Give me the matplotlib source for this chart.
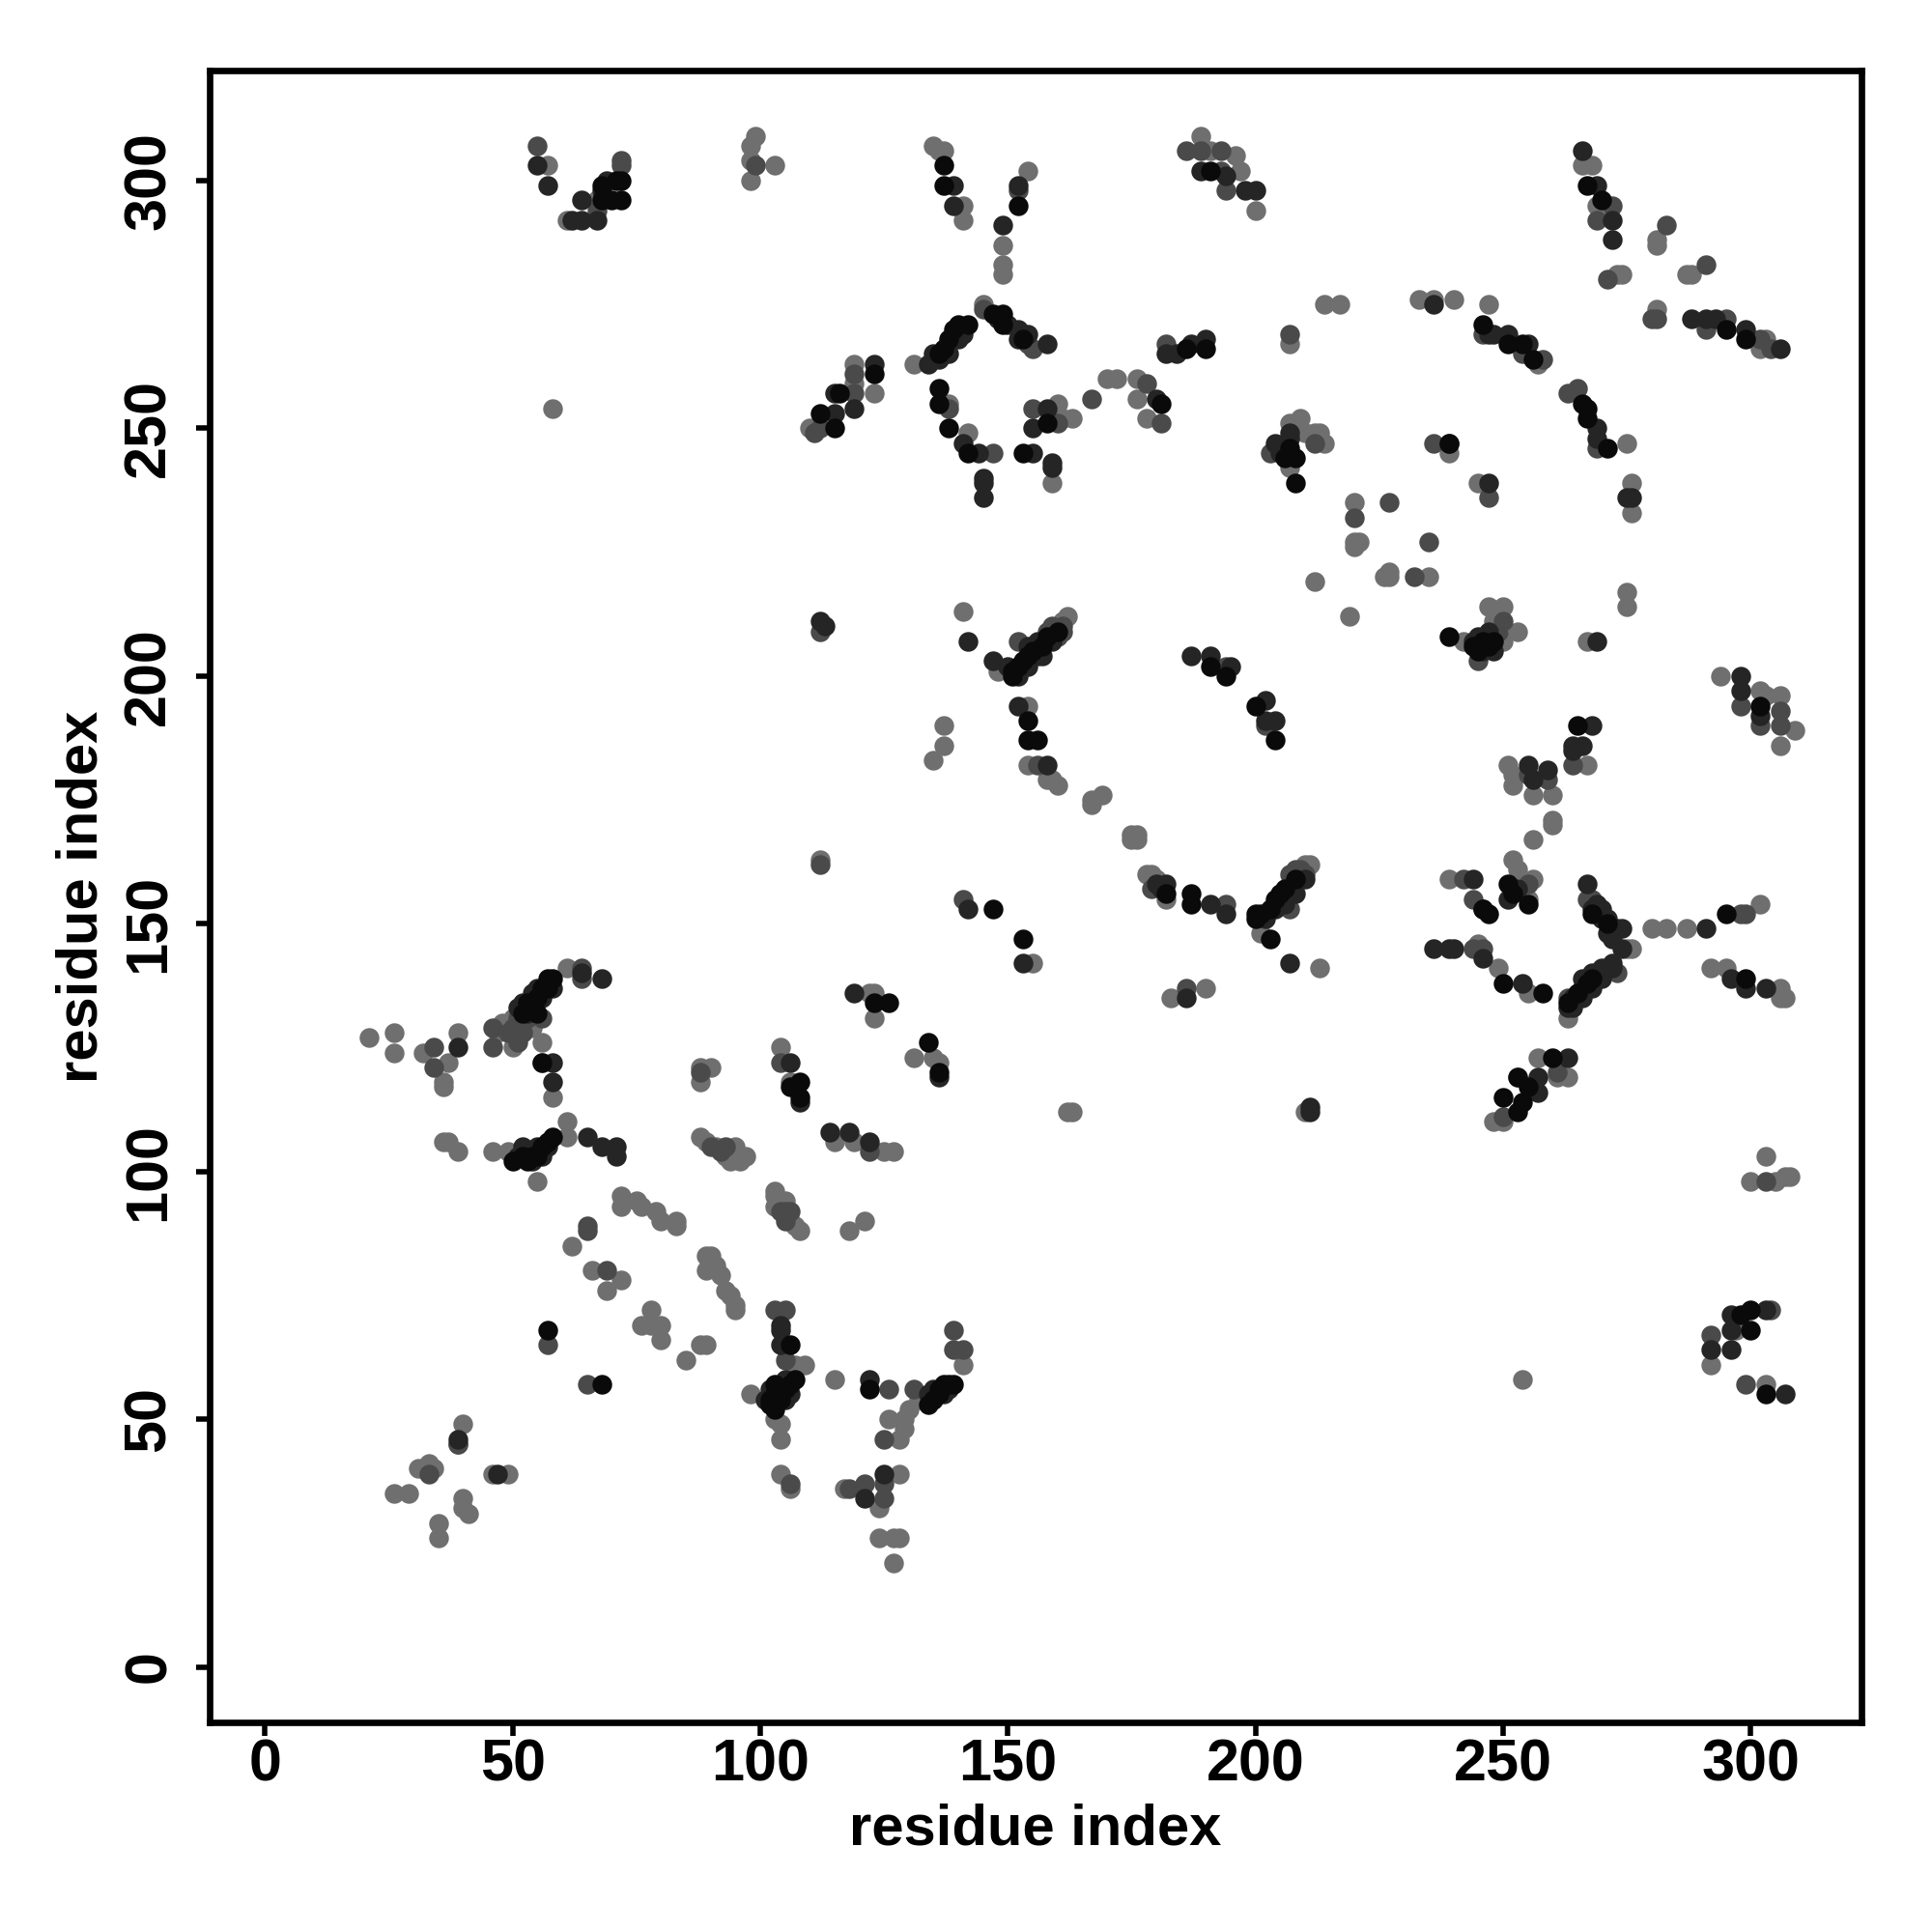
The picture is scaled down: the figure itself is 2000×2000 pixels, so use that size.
import matplotlib
matplotlib.use("Agg")
import matplotlib.pyplot as plt

# contacts as (residue i, residue j), grouped by how dark the dot is
light = [(35,26),(35,29),(26,35),(29,35),(31,40),(32,40),(33,41),(34,40),(40,49),(39,45),(46,39),(49,39),(40,34),(40,32),(41,31),
 (107,61),(109,61),(98,55),(103,50),(104,49),(104,46),(115,58),(126,50),(128,46),(129,48),(129,50),(130,52),(132,54),(141,61),
 (117,36),(128,39),(124,32),(124,26),(127,26),(128,26),(127,21),(104,39),(106,36),
 (62,85),(66,80),(69,76),(72,78),(76,69),(78,69),(78,72),(80,69),(80,66),(85,62),(88,65),(89,65),
 (72,95),(72,93),(75,94),(76,93),(79,92),(80,90),(83,90),(83,89),(89,83),(89,80),(92,79),(93,76),(95,73),(95,72),(90,83),(91,81),(94,75),
 (21,127),(26,128),(26,124),(32,124),(37,122),(36,118),(39,128),(36,117),(50,125),(50,131),(48,130),(47,128),(52,130),(54,129),
 (61,141),(56,126),(56,122),(58,115),(36,106),(37,106),(39,104),(46,104),(49,104),(55,98),(61,110),(61,107),
 (88,121),(88,118),(90,121),(104,125),(106,118),(88,107),(89,106),(91,105),(93,103),(95,105),(96,102),(97,103),(94,102),
 (103,96),(103,93),(105,94),(106,90),(107,89),(108,88),(103,95),(118,88),(121,90),(115,106),(119,106),(125,104),(127,104),
 (122,136),(123,136),(123,131),(131,123),(136,122),(135,123),(112,163),(162,112),(163,112),(210,112),(254,58),
 (297,68),(292,61),(303,57),(303,103),(300,98),(307,99),(308,99),(305,98),(250,110),(248,110),(253,119),(257,123),(263,119),(261,119),
 (245,146),(249,141),(255,136),(263,131),(275,145),(276,145),(280,149),(283,149),(287,149),(302,154),(292,141),(295,141),(306,137),(306,135),(307,135),
 (239,159),(255,155),(256,159),(252,163),(253,161),(256,167),(260,170),(260,171),(251,182),(252,180),(252,178),(256,176),(260,176),(267,182),
 (294,200),(302,197),(303,196),(306,196),(306,186),(309,189),(242,207),(247,214),(250,214),(248,211),(253,209),(250,207),(249,213),
 (267,207),(275,217),(275,214),(219,212),(212,219),(220,235),(220,227),(221,227),(220,226),(226,220),(227,221),(227,220),(235,220),
 (239,245),(245,239),(275,247),(276,239),(276,233),(257,263),(233,276),(236,276),(240,276),(247,275),(214,275),(217,275),(207,267),
 (266,303),(268,303),(269,295),(270,295),(273,281),(274,281),(281,274),(281,288),(281,287),(287,281),(288,281),(303,268),(302,266),
 (189,309),(196,305),(197,302),(200,294),(191,306),(135,307),(137,306),(136,306),(141,295),(141,292),(154,302),(149,287),(149,283),(149,281),
 (57,303),(61,292),(67,296),(98,307),(99,309),(98,304),(98,300),(103,303),(58,254),(110,250),(119,259),(119,263),(123,257),(131,263),
 (145,275),(138,255),(142,249),(159,239),(160,255),(161,252),(163,252),(170,260),(172,260),(176,260),(176,256),(178,252),
 (207,251),(209,252),(210,249),(207,242),(212,249),(213,249),(214,247),(141,213),(148,201),(161,211),(162,212),
 (154,194),(154,182),(158,179),(160,178),(159,179),(167,175),(169,176),(167,174),(175,168),(176,168),(176,167),(175,167),
 (178,160),(179,160),(180,159),(182,155),(210,162),(211,162),(201,148),(213,141),(155,142),(183,135),(190,137),(137,186),(137,190),(135,183)]

mid = [(33,39),(39,45),(57,65),(65,57),(103,72),(105,72),(105,62),(126,56),(125,46),(131,56),(139,64),(141,64),(139,68),
 (118,36),(121,37),(125,37),(125,34),(106,37),(65,89),(65,88),(69,80),
 (34,125),(34,121),(46,125),(46,129),(56,131),(64,141),(64,139),(49,128),(51,126),
 (88,120),(90,105),(104,122),(122,104),(112,162),(112,209),(292,67),(299,57),(304,72),(303,98),(250,111),(261,120),
 (244,145),(246,145),(273,140),(267,155),(268,155),(298,152),(299,152),(244,155),(255,158),(242,159),(255,180),(259,179),(264,182),
 (298,194),(306,193),(306,190),(302,190),(245,203),(250,211),(249,209),(220,232),(227,235),(232,220),(235,227),(236,247),(247,236),
 (263,257),(265,258),(269,246),(246,269),(254,265),(258,264),(207,269),(272,295),(269,292),(271,280),(280,272),(281,272),(283,291),(291,283),
 (291,270),(295,272),(302,268),(304,266),(186,306),(189,306),(193,306),(193,302),(194,298),(152,298),(55,307),(67,294),(72,304),(72,303),(99,303),
 (111,249),(112,250),(119,261),(119,257),(145,274),(155,266),(154,267),(138,254),(147,245),(155,254),(160,251),(167,256),(178,259),(181,251),
 (182,267),(203,245),(212,247),(152,207),(161,210),(194,202),(202,190),(156,182),(179,157),(194,154),(207,153),(141,155),(186,137),(263,135),
 (50,129),(52,128),(53,131),(51,131),(160,208),(161,209),(159,210),(158,209),(209,161),(208,161),(207,160),(210,160),(92,104),(93,105),(105,92),(105,90),(104,92),(106,92)]

dark = [(39,46),(47,39),(121,34),(125,39),(104,69),(104,68),(104,65),(122,58),(58,122),(58,118),(39,125),(68,139),(65,107),(68,105),(71,105),(71,103),
 (64,140),(56,105),(106,122),(108,114),(114,108),(118,108),(122,106),(119,136),(136,119),(112,211),(113,210),(211,113),(211,112),
 (292,64),(296,71),(296,68),(296,64),(307,55),(303,72),(257,116),(257,119),(263,123),(236,145),(239,145),(240,145),(246,143),(254,138),
 (264,135),(266,137),(270,141),(272,142),(269,140),(274,145),(273,149),(274,149),(271,151),(270,153),(269,154),(267,158),(291,149),(296,139),(299,137),(303,137),
 (244,159),(246,153),(251,155),(253,157),(255,182),(256,179),(259,181),(268,190),(264,186),(266,186),(264,185),
 (298,200),(298,197),(302,192),(247,208),(269,207),(239,247),(247,239),(275,236),(276,236),(269,250),(269,248),(247,269),(248,269),(251,269),(255,267),
 (236,275),(266,306),(269,299),(272,292),(272,288),(288,272),(291,272),(293,272),(299,270),(306,266),(189,302),(194,301),(198,298),(200,298),
 (139,299),(139,295),(152,299),(149,291),(55,303),(57,299),(62,292),(64,292),(67,292),(64,296),(68,298),(69,300),(115,253),(115,257),(119,254),(123,263),
 (134,263),(136,264),(148,272),(152,270),(154,269),(158,267),(141,247),(144,245),(145,240),(145,239),(145,236),(155,245),(155,250),(158,254),(159,243),(159,242),
 (180,256),(182,265),(184,265),(187,267),(190,268),(206,247),(205,245),(142,207),(147,203),(187,204),(191,204),(195,202),(202,195),(202,191),(204,191),
 (152,194),(158,182),(182,158),(191,154),(194,152),(142,153),(207,142),(153,142),(186,135),
 (52,134),(54,136),(56,135),(58,137),(55,137),(53,132),(51,133),(52,105),(53,104),(51,103),(54,102),(55,105),(56,103),(57,105),
 (102,56),(101,54),(103,54),(105,54),(106,55),(105,58),(135,56),(137,55),(138,56),(134,55),
 (150,202),(152,200),(154,202),(156,204),(157,204),(159,207),(156,207),(154,206),(202,151),(204,153),(206,154),(208,156),(210,159),
 (263,133),(264,133),(266,135),(268,137),(270,139),(272,141),(266,139),(268,140),(135,265),(138,265),(140,268),(141,269),(150,271),(152,268),
 (244,207),(246,205),(247,209),(248,205),(245,208),(204,247),(207,248),(207,249),(268,153),(270,151),(271,148),(272,147),(180,158),(181,157)]

black = [(57,68),(68,57),(106,65),(103,57),(103,55),(102,54),(102,53),(103,52),(104,54),(104,56),(105,56),(106,57),(107,58),(122,56),
 (134,53),(135,54),(136,55),(137,57),(138,57),(139,57),(136,56),
 (53,134),(55,135),(56,137),(57,139),(58,139),(52,132),(54,133),(55,132),(57,137),(56,122),
 (52,103),(54,103),(55,103),(56,105),(57,106),(58,107),(50,102),(53,102),
 (108,118),(108,115),(106,117),(123,134),(126,134),(134,126),(136,120),
 (300,72),(300,68),(303,55),(298,71),(250,115),(253,112),(253,119),(260,123),(254,114),(255,117),
 (250,138),(258,136),(263,134),(265,136),(267,138),(268,139),(295,152),(299,139),(271,150),(268,152),
 (246,153),(247,152),(251,158),(255,154),(252,156),(265,190),(302,194),(239,208),(246,207),(244,206),(245,205),(247,206),(248,207),
 (267,299),(271,246),(267,254),(267,252),(266,255),(246,271),(251,267),(254,267),(256,264),(239,247),(270,296),
 (295,270),(299,268),(191,302),(137,303),(137,299),(152,295),(68,299),(71,300),(72,300),(70,296),(72,296),(68,296),
 (112,253),(115,250),(116,257),(123,261),(136,265),(137,266),(138,268),(139,270),(140,271),(142,271),(147,273),(149,273),(149,271),(153,268),
 (136,258),(136,255),(138,250),(142,245),(153,245),(158,251),(181,255),(186,266),(190,266),(206,244),(208,244),(208,239),(207,246),
 (151,201),(151,200),(153,203),(155,205),(157,206),(158,208),(160,209),(152,202),(154,204),(191,202),(194,200),(200,194),(204,187),
 (154,191),(154,187),(156,187),(182,156),(187,156),(187,154),(200,152),(200,151),(201,152),(203,153),(204,155),(206,157),(208,159),(205,156),(203,147),
 (147,153),(153,147)]

ticks = [0, 50, 100, 150, 200, 250, 300]
levels = [(light, "#6f6f6f"), (mid, "#4a4a4a"), (dark, "#252525"), (black, "#0a0a0a")]

plt.rcParams["font.family"] = ["Liberation Sans", "DejaVu Sans"]
plt.rcParams["font.weight"] = "bold"

fig = plt.figure(figsize=(10, 10), dpi=200)
ax = fig.add_axes([217/2000, 1-1783/2000, (1927-217)/2000, (1783-73)/2000])

for pts, col in levels:
    ax.scatter([p[0] for p in pts], [p[1] for p in pts], s=54, c=col, linewidths=0, zorder=3)

ax.set_xlim(-11.2, 322.4)
ax.set_ylim(-11.2, 322.2)
ax.set_xticks(ticks)
ax.set_yticks(ticks)
ax.tick_params(axis="x", length=5, width=2.0, labelsize=22, pad=1)
ax.tick_params(axis="y", length=5, width=2.0, labelsize=22, pad=7)
for lab in ax.get_yticklabels():
    lab.set_rotation(90)
    lab.set_va("center")
for s in ax.spines.values():
    s.set_linewidth(2.4)
ax.set_xlabel("residue index", fontsize=21.5, fontweight="bold", labelpad=3.5)
ax.set_ylabel("residue index", fontsize=21.5, fontweight="bold", labelpad=5)

fig.savefig("out.png", dpi=200, facecolor="white")
